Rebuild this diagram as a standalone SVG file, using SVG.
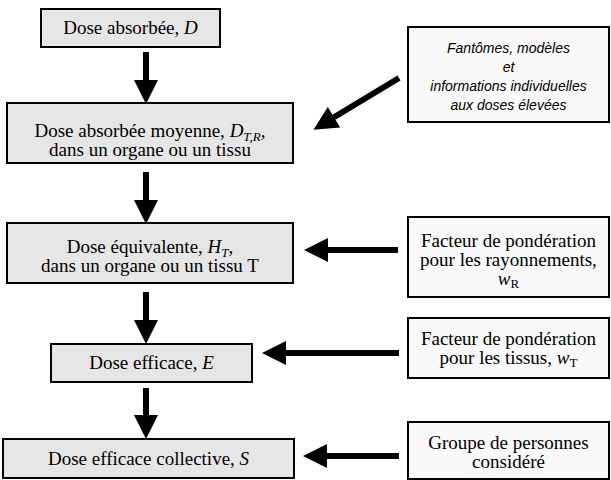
<svg xmlns="http://www.w3.org/2000/svg" width="611" height="480" viewBox="0 0 611 480">
<style>
.main{fill:#e6e6e6;stroke:#000;stroke-width:2}
.side{fill:#f9f9f9;stroke:#000;stroke-width:2}
.t{font-family:"Liberation Serif","Times New Roman",serif;font-size:19px;fill:#000;text-anchor:middle}
.s{font-family:"Liberation Sans",Arial,sans-serif;font-size:14px;font-style:italic;fill:#000;text-anchor:middle}
.i{font-style:italic}
.sub{font-size:13px}
.c{stroke:#000;stroke-width:6;fill:none;marker-end:url(#ah)}
</style>
<defs>
<marker id="ah" markerUnits="userSpaceOnUse" markerWidth="24" markerHeight="24" refX="0" refY="12" orient="auto" overflow="visible">
<path d="M0,0 L24,12 L0,24 Z" fill="#000"/>
</marker>
</defs>
<rect width="611" height="480" fill="#fff"/>
<g id="n1"><rect class="main" x="41" y="9" width="179" height="38"/>
<text class="t" x="130.5" y="34">Dose absorbée, <tspan class="i">D</tspan></text></g>
<g id="n2"><rect class="main" x="7" y="103" width="286" height="60"/>
<text class="t" x="150" y="137">Dose absorbée moyenne, <tspan class="i">D</tspan><tspan class="i sub" dy="4">T,R</tspan><tspan class="i" dy="-4">,</tspan></text>
<text class="t" x="150" y="156">dans un organe ou un tissu</text></g>
<g id="n3"><rect class="main" x="7" y="223" width="286" height="60"/>
<text class="t" x="150" y="253">Dose équivalente, <tspan class="i">H</tspan><tspan class="i sub" dy="4">T</tspan><tspan class="i" dy="-4">,</tspan></text>
<text class="t" x="150" y="272">dans un organe ou un tissu T</text></g>
<g id="n4"><rect class="main" x="51" y="344" width="201" height="38"/>
<text class="t" x="151.5" y="369">Dose efficace, <tspan class="i">E</tspan></text></g>
<g id="n5"><rect class="main" x="3" y="439" width="291" height="39"/>
<text class="t" x="148.5" y="465">Dose efficace collective, <tspan class="i">S</tspan></text></g>
<g id="nA"><rect class="side" x="408" y="27" width="201" height="95"/>
<text class="s" x="508.5" y="53">Fantômes, modèles</text>
<text class="s" x="508.5" y="72">et</text>
<text class="s" x="508.5" y="91">informations individuelles</text>
<text class="s" x="508.5" y="110">aux doses élevées</text></g>
<g id="nB"><rect class="side" x="408" y="217" width="201" height="80"/>
<text class="t" x="508.5" y="247">Facteur de pondération</text>
<text class="t" x="508.5" y="266">pour les rayonnements,</text>
<text class="t" x="508.5" y="285"><tspan class="i">w</tspan><tspan class="sub" dy="3">R</tspan></text></g>
<g id="nC"><rect class="side" x="408" y="318" width="201" height="60"/>
<text class="t" x="508.5" y="345">Facteur de pondération</text>
<text class="t" x="508.5" y="364">pour les tissus, <tspan class="i">w</tspan><tspan class="sub" dy="3">T</tspan></text></g>
<g id="nD"><rect class="side" x="408" y="422" width="201" height="57"/>
<text class="t" x="508.5" y="449">Groupe de personnes</text>
<text class="t" x="508.5" y="468">considéré</text></g>
<g id="connectors">
<line class="c" x1="146" y1="52" x2="146" y2="80"/>
<line class="c" x1="146" y1="172" x2="146" y2="200"/>
<line class="c" x1="146" y1="292" x2="146" y2="320"/>
<line class="c" x1="146" y1="388" x2="146" y2="415"/>
<line class="c" x1="399" y1="78" x2="334" y2="117.3"/>
<line class="c" x1="398" y1="250" x2="328" y2="250"/>
<line class="c" x1="399" y1="353" x2="286" y2="353"/>
<line class="c" x1="399" y1="456" x2="327" y2="456"/>
</g>
</svg>
